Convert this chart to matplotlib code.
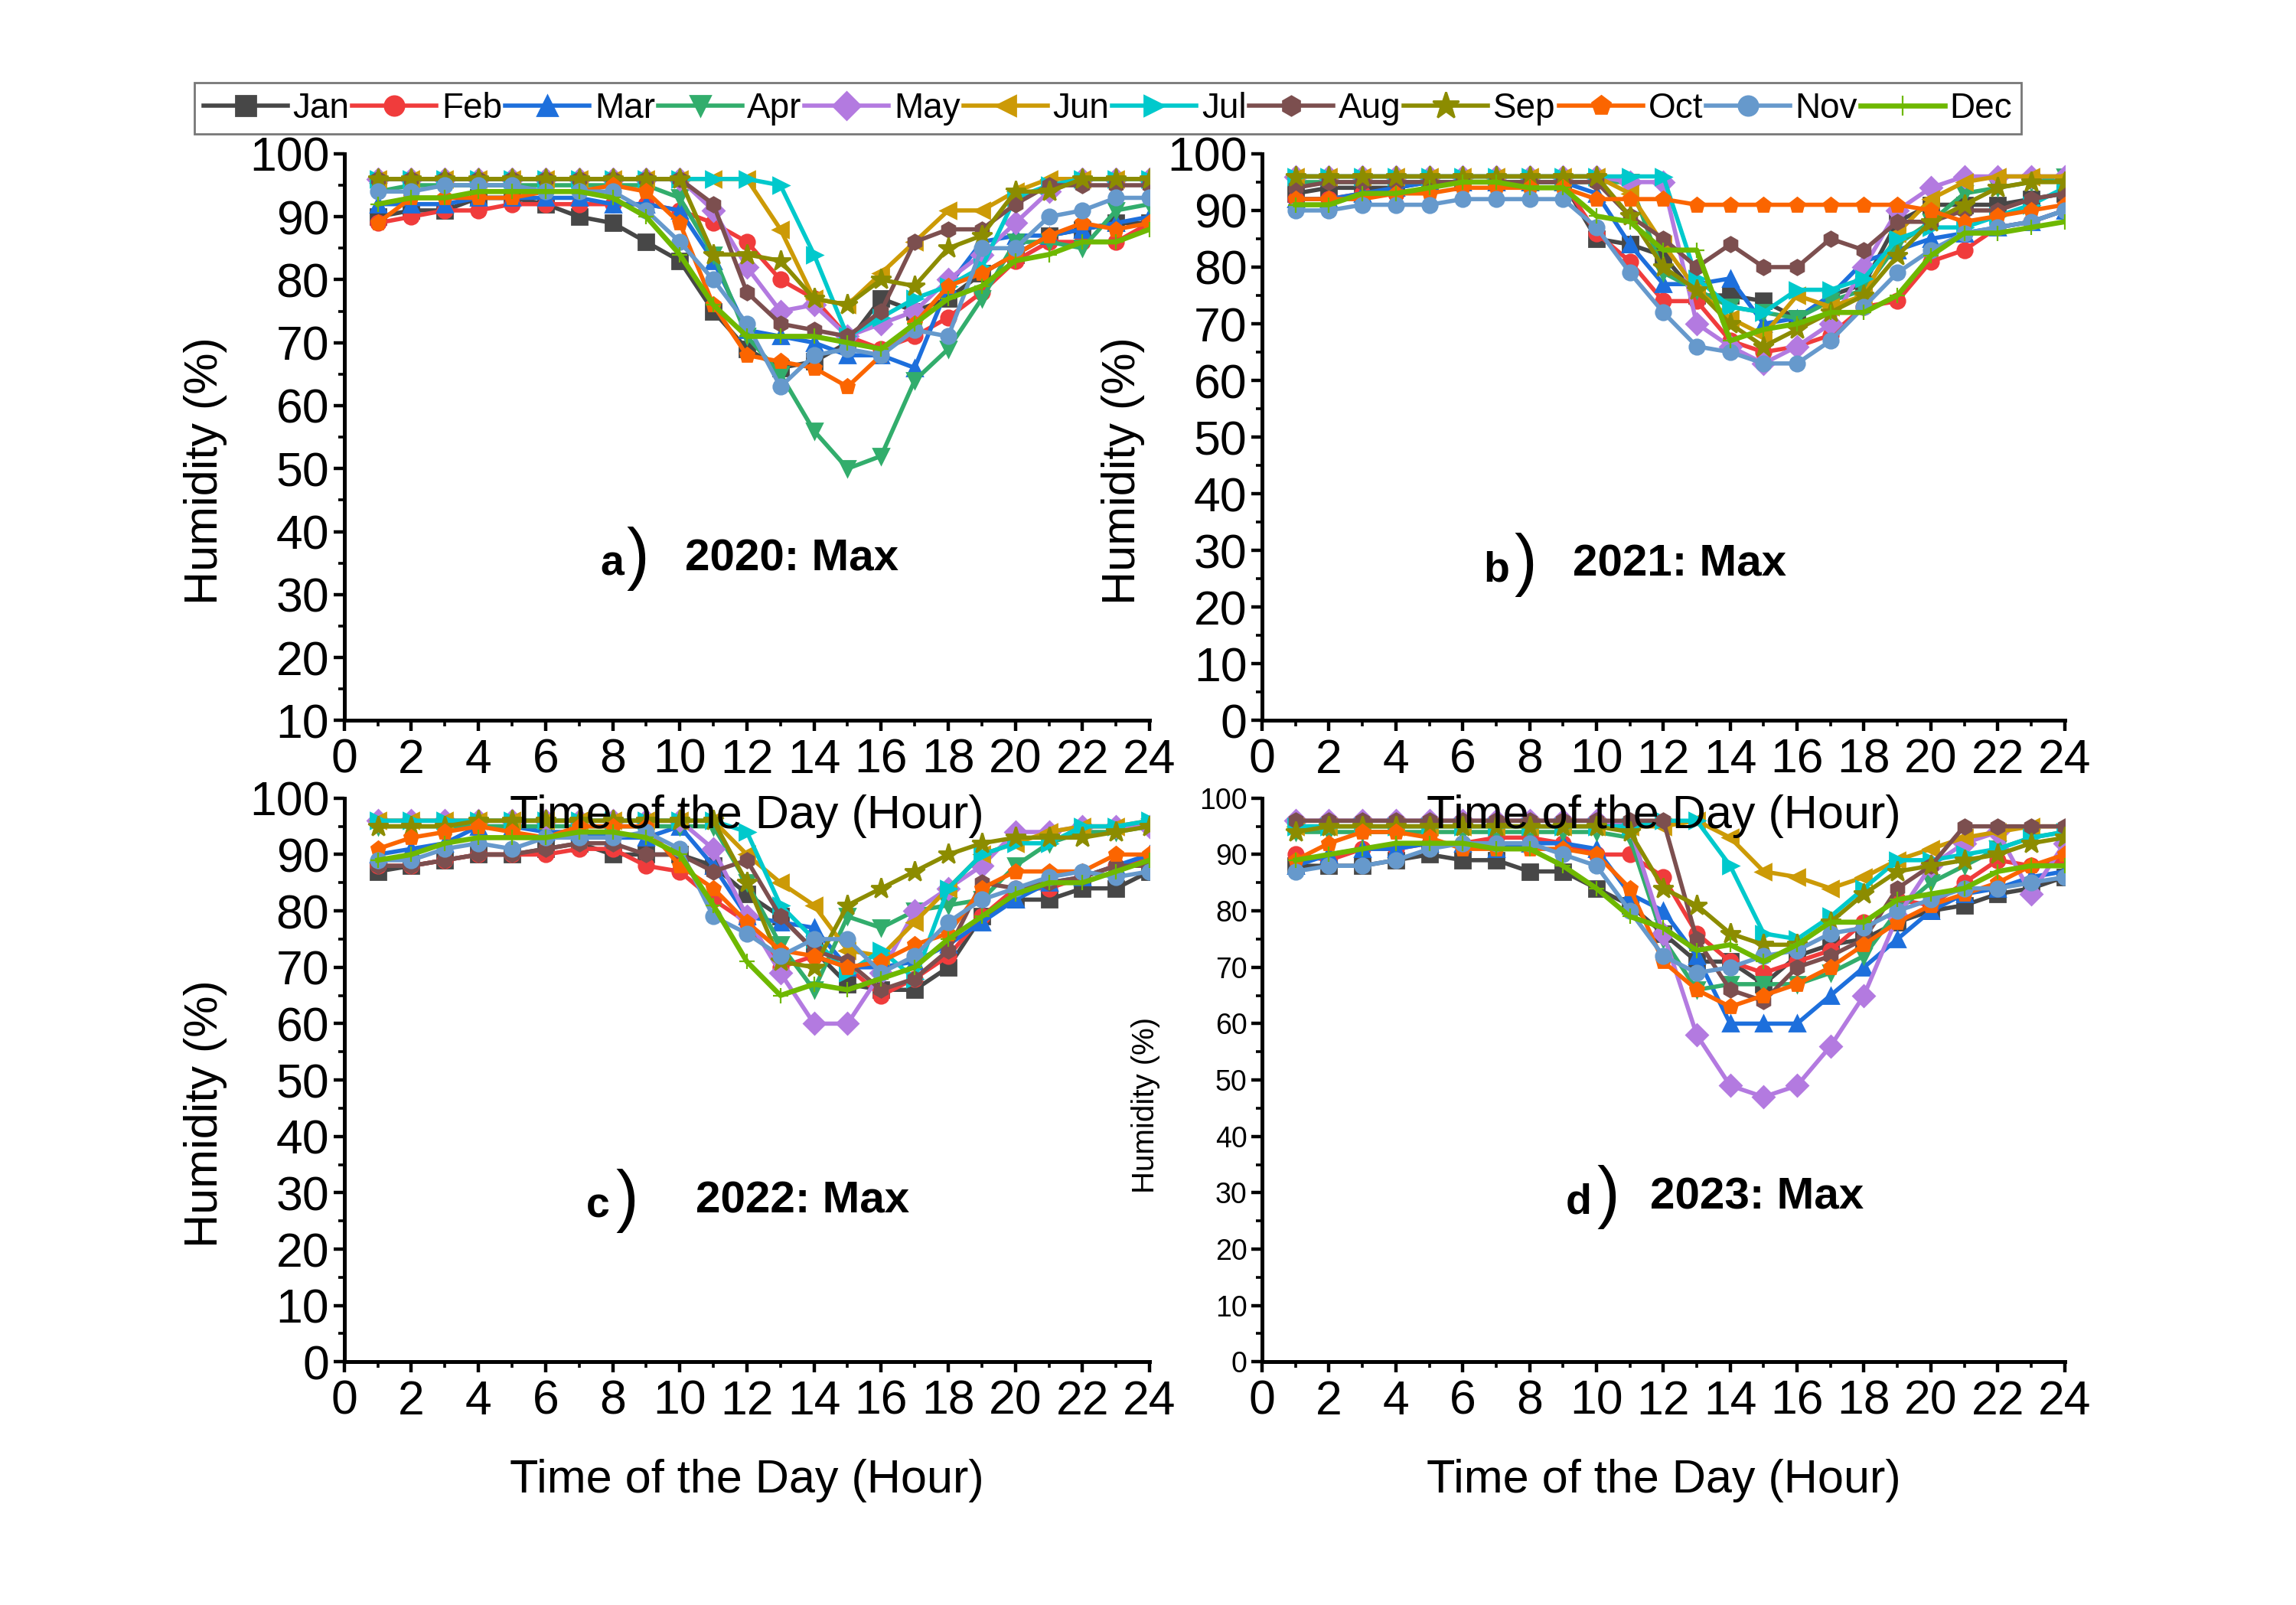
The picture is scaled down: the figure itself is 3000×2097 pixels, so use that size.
import matplotlib
matplotlib.use('Agg')
import matplotlib.pyplot as plt
from matplotlib.ticker import MultipleLocator

plt.rcParams['font.family'] = ['Liberation Sans', 'DejaVu Sans']

hours = list(range(1, 25))
months = ['Jan', 'Feb', 'Mar', 'Apr', 'May', 'Jun', 'Jul', 'Aug', 'Sep', 'Oct', 'Nov', 'Dec']
colors = ['#474747', '#f03c3c', '#1d6fdc', '#32ad6c', '#b37ae0', '#cc9a06',
          '#00c9cc', '#7c4f4f', '#8c8c00', '#fb6500', '#6699cc', '#6eb800']
markers = ['s', 'o', '^', 'v', 'D', '<', '>', 'h', '*', 'p', 'o', '+']

# 2020
a_jan = [90, 91, 91, 93, 93, 92, 90, 89, 86, 83, 75, 69, 66, 67, 70, 77, 75, 77, 81, 84, 87, 88, 89, 89]
a_feb = [89, 90, 91, 91, 92, 92, 92, 92, 92, 91, 89, 86, 80, 77, 71, 69, 71, 74, 78, 83, 86, 86, 86, 89]
a_mar = [92, 92, 92, 93, 93, 93, 93, 92, 92, 91, 83, 72, 71, 70, 68, 68, 66, 79, 86, 87, 87, 88, 89, 90]
a_apr = [94, 95, 95, 95, 95, 95, 95, 95, 95, 93, 84, 71, 65, 56, 50, 52, 64, 69, 77, 86, 86, 85, 91, 92]
a_may = [96, 96, 96, 96, 96, 96, 96, 96, 96, 96, 91, 82, 75, 76, 71, 73, 75, 80, 84, 89, 94, 96, 96, 96]
a_jun = [96, 96, 96, 96, 96, 96, 96, 96, 96, 96, 96, 96, 88, 77, 76, 81, 86, 91, 91, 94, 96, 96, 96, 96]
a_jul = [96, 96, 96, 96, 96, 96, 96, 96, 96, 96, 96, 96, 95, 84, 71, 74, 77, 79, 82, 93, 95, 96, 96, 96]
a_aug = [96, 96, 96, 96, 96, 96, 96, 96, 96, 96, 92, 78, 73, 72, 71, 75, 86, 88, 88, 92, 95, 95, 95, 95]
a_sep = [96, 96, 96, 96, 96, 96, 96, 96, 96, 96, 84, 84, 83, 77, 76, 80, 79, 85, 87, 94, 94, 96, 96, 96]
a_oct = [89, 93, 93, 93, 93, 94, 94, 95, 94, 89, 76, 68, 67, 66, 63, 68, 73, 79, 81, 84, 87, 89, 88, 89]
a_nov = [94, 94, 95, 95, 95, 94, 94, 94, 91, 86, 80, 73, 63, 68, 69, 68, 72, 71, 85, 85, 90, 91, 93, 93]
a_dec = [92, 93, 93, 94, 94, 94, 94, 93, 90, 84, 76, 71, 71, 71, 70, 69, 73, 77, 79, 83, 84, 86, 86, 88]

# 2021
b_jan = [93, 94, 94, 94, 95, 95, 95, 95, 95, 85, 84, 82, 75, 75, 74, 71, 75, 77, 88, 91, 91, 91, 92, 93]
b_feb = [92, 92, 93, 93, 94, 95, 95, 95, 95, 86, 81, 74, 74, 67, 65, 66, 68, 73, 74, 81, 83, 87, 88, 90]
b_mar = [92, 92, 93, 94, 95, 95, 95, 95, 95, 93, 84, 77, 77, 78, 70, 71, 75, 81, 83, 85, 86, 87, 88, 90]
b_apr = [95, 95, 95, 95, 95, 95, 95, 95, 95, 95, 95, 79, 76, 73, 72, 71, 74, 76, 84, 88, 93, 94, 95, 96]
b_may = [96, 96, 96, 96, 96, 96, 96, 96, 96, 96, 95, 95, 70, 66, 63, 66, 70, 80, 90, 94, 96, 96, 96, 96]
b_jun = [96, 96, 96, 96, 96, 96, 96, 96, 96, 96, 93, 84, 76, 71, 68, 75, 73, 75, 86, 92, 95, 96, 96, 96]
b_jul = [96, 96, 96, 96, 96, 96, 96, 96, 96, 96, 96, 96, 78, 73, 72, 76, 76, 78, 85, 87, 87, 89, 91, 94]
b_aug = [94, 95, 95, 95, 95, 95, 95, 95, 95, 95, 89, 85, 80, 84, 80, 80, 85, 83, 88, 88, 90, 90, 92, 93]
b_sep = [96, 96, 96, 96, 96, 96, 96, 96, 96, 96, 89, 80, 76, 70, 66, 69, 72, 75, 82, 88, 91, 94, 95, 95]
b_oct = [92, 92, 92, 93, 93, 94, 94, 94, 94, 92, 92, 92, 91, 91, 91, 91, 91, 91, 91, 90, 88, 89, 90, 91]
b_nov = [90, 90, 91, 91, 91, 92, 92, 92, 92, 87, 79, 72, 66, 65, 63, 63, 67, 73, 79, 83, 86, 87, 88, 90]
b_dec = [91, 91, 93, 93, 94, 95, 95, 94, 94, 89, 88, 83, 83, 67, 69, 70, 72, 72, 75, 82, 86, 86, 87, 88]

# 2022
c_jan = [87, 88, 89, 90, 90, 91, 92, 90, 90, 90, 88, 83, 79, 73, 67, 66, 66, 70, 79, 82, 82, 84, 84, 87]
c_feb = [88, 88, 89, 90, 90, 90, 91, 91, 88, 87, 82, 78, 70, 72, 70, 65, 68, 72, 79, 84, 84, 86, 88, 89]
c_mar = [90, 91, 92, 95, 95, 94, 94, 93, 93, 95, 88, 79, 78, 77, 70, 70, 71, 74, 78, 82, 85, 86, 88, 90]
c_apr = [95, 95, 95, 95, 95, 95, 95, 95, 95, 95, 95, 85, 74, 66, 79, 77, 80, 81, 82, 88, 92, 94, 94, 95]
c_may = [96, 96, 96, 96, 96, 96, 96, 96, 96, 96, 91, 79, 69, 60, 60, 69, 80, 84, 88, 94, 94, 95, 95, 95]
c_jun = [96, 96, 96, 96, 96, 96, 96, 96, 96, 96, 96, 90, 85, 81, 73, 72, 78, 84, 90, 92, 94, 95, 95, 96]
c_jul = [96, 96, 96, 96, 96, 96, 96, 96, 96, 96, 96, 94, 81, 75, 69, 73, 68, 84, 90, 92, 92, 95, 95, 96]
c_aug = [88, 88, 89, 90, 90, 91, 92, 92, 90, 90, 87, 89, 79, 73, 71, 66, 68, 73, 85, 84, 85, 86, 88, 88]
c_sep = [95, 95, 95, 96, 96, 96, 96, 96, 96, 96, 96, 85, 71, 70, 81, 84, 87, 90, 92, 93, 93, 93, 94, 95]
c_oct = [91, 93, 94, 95, 94, 93, 95, 95, 95, 88, 84, 78, 73, 72, 70, 71, 74, 76, 84, 87, 87, 87, 90, 90]
c_nov = [89, 89, 91, 92, 91, 93, 93, 93, 94, 91, 79, 76, 72, 75, 75, 69, 72, 78, 82, 84, 86, 87, 86, 87]
c_dec = [89, 90, 92, 93, 93, 93, 94, 94, 93, 90, 81, 71, 65, 67, 66, 68, 70, 75, 79, 83, 85, 85, 87, 89]

# 2023
d_jan = [88, 88, 88, 89, 90, 89, 89, 87, 87, 84, 81, 76, 71, 71, 67, 72, 74, 75, 78, 80, 81, 83, 84, 86]
d_feb = [90, 89, 91, 91, 92, 92, 93, 93, 92, 90, 90, 86, 76, 71, 69, 71, 73, 78, 82, 81, 85, 89, 88, 89]
d_mar = [88, 90, 91, 91, 92, 92, 91, 92, 92, 91, 83, 80, 72, 60, 60, 60, 65, 70, 75, 80, 83, 84, 86, 87]
d_apr = [94, 94, 94, 94, 94, 94, 94, 94, 94, 94, 93, 75, 66, 67, 67, 67, 69, 72, 80, 85, 88, 91, 93, 94]
d_may = [96, 96, 96, 96, 96, 96, 96, 96, 96, 96, 95, 76, 58, 49, 47, 49, 56, 65, 79, 88, 92, 94, 83, 92]
d_jun = [95, 95, 95, 95, 95, 95, 95, 95, 95, 95, 95, 95, 96, 93, 87, 86, 84, 86, 89, 91, 93, 94, 95, 95]
d_jul = [95, 95, 95, 95, 95, 95, 95, 95, 95, 95, 95, 96, 96, 88, 76, 75, 79, 84, 89, 89, 90, 91, 93, 94]
d_aug = [96, 96, 96, 96, 96, 96, 96, 96, 96, 96, 96, 96, 75, 66, 64, 70, 72, 75, 84, 88, 95, 95, 95, 95]
d_sep = [94, 95, 95, 95, 95, 95, 95, 95, 95, 95, 94, 84, 81, 76, 74, 74, 78, 83, 87, 88, 89, 90, 92, 93]
d_oct = [89, 92, 94, 94, 93, 91, 91, 91, 91, 90, 84, 71, 66, 63, 65, 67, 70, 74, 78, 81, 83, 85, 88, 90]
d_nov = [87, 88, 88, 89, 91, 92, 92, 92, 90, 88, 80, 72, 69, 70, 72, 73, 76, 77, 80, 82, 84, 84, 85, 86]
d_dec = [89, 90, 91, 92, 92, 92, 91, 91, 88, 84, 79, 77, 73, 74, 71, 74, 78, 78, 82, 83, 84, 87, 88, 88]

panels = [
    [a_jan, a_feb, a_mar, a_apr, a_may, a_jun, a_jul, a_aug, a_sep, a_oct, a_nov, a_dec],
    [b_jan, b_feb, b_mar, b_apr, b_may, b_jun, b_jul, b_aug, b_sep, b_oct, b_nov, b_dec],
    [c_jan, c_feb, c_mar, c_apr, c_may, c_jun, c_jul, c_aug, c_sep, c_oct, c_nov, c_dec],
    [d_jan, d_feb, d_mar, d_apr, d_may, d_jun, d_jul, d_aug, d_sep, d_oct, d_nov, d_dec],
]
letters = ['a', 'b', 'c', 'd']
titles = ['2020: Max', '2021: Max', '2022: Max', '2023: Max']
ymins = [10, 0, 0, 0]

# axes boxes [left, bottom, width, height]
boxes = [[0.1499, 0.5511, 0.3508, 0.3531],
         [0.5497, 0.5511, 0.3495, 0.3531],
         [0.1499, 0.1515, 0.3508, 0.3512],
         [0.5497, 0.1515, 0.3495, 0.3512]]
# text positions in axes coords: letter x, paren x, title x, y
txt_pos = [(0.333, 0.364, 0.556, 0.275),
           (0.292, 0.328, 0.520, 0.265),
           (0.315, 0.351, 0.569, 0.275),
           (0.394, 0.431, 0.617, 0.282)]
xlab_y = [-0.13, -0.13, -0.172, -0.172]
ylab_xy = [(-0.145, 0.44), (-0.146, 0.44), (-0.145, 0.44), (-0.127, 0.455)]

fig = plt.figure(figsize=(15, 10.485), dpi=200)

for i in range(4):
    ax = fig.add_axes(boxes[i])
    ax.set_zorder(2 if i < 2 else 1)
    for j, m in enumerate(months):
        ms = 10 if markers[j] == '*' else 7
        ax.plot(hours, panels[i][j], color=colors[j], marker=markers[j], markersize=ms,
                markeredgewidth=1.0 if markers[j] != '+' else 0.8,
                lw=2.4 if m == 'Dec' else 2.0, label=m)
    ax.set_xlim(0, 24)
    ax.set_ylim(ymins[i], 100)
    ax.xaxis.set_major_locator(MultipleLocator(2))
    ax.xaxis.set_minor_locator(MultipleLocator(1))
    ax.yaxis.set_major_locator(MultipleLocator(10))
    ax.yaxis.set_minor_locator(MultipleLocator(5))
    for s in ['top', 'right']:
        ax.spines[s].set_visible(False)
    for s in ['left', 'bottom']:
        ax.spines[s].set_linewidth(1.8)
    ysize = 13.5 if i == 3 else 22.5
    ax.tick_params(axis='x', which='major', labelsize=22.5, direction='out', length=5, width=1.6, pad=3)
    ax.tick_params(axis='y', which='major', labelsize=ysize, direction='out', length=5, width=1.6, pad=2)
    ax.tick_params(which='minor', direction='out', length=3, width=1.3)
    ax.set_xlabel('Time of the Day (Hour)', fontsize=22)
    ax.xaxis.set_label_coords(0.5, xlab_y[i])
    ax.set_ylabel('Humidity (%)', fontsize=14.5 if i == 3 else 22)
    ax.yaxis.set_label_coords(*ylab_xy[i])
    lx, px, tx, ty = txt_pos[i]
    ax.text(lx, ty, letters[i], transform=ax.transAxes, fontsize=20, fontweight='bold',
            ha='center', va='center')
    ax.text(px, ty + 0.01, ')', transform=ax.transAxes, fontsize=32,
            ha='center', va='center')
    ax.text(tx, ty + 0.01, titles[i], transform=ax.transAxes, fontsize=21, fontweight='bold',
            ha='center', va='center')
    if i == 0:
        handles, labels = ax.get_legend_handles_labels()

leg = fig.legend(handles, labels, loc='center', bbox_to_anchor=(0.4825, 0.9325), ncol=12,
                 fontsize=16.5, handlelength=2.4, handletextpad=0.15, columnspacing=0.08,
                 borderpad=0.25, fancybox=False, markerscale=1.3, frameon=True)
leg.get_frame().set_edgecolor('#555555')
leg.get_frame().set_linewidth(1.0)

fig.savefig('out.png', dpi=200)
